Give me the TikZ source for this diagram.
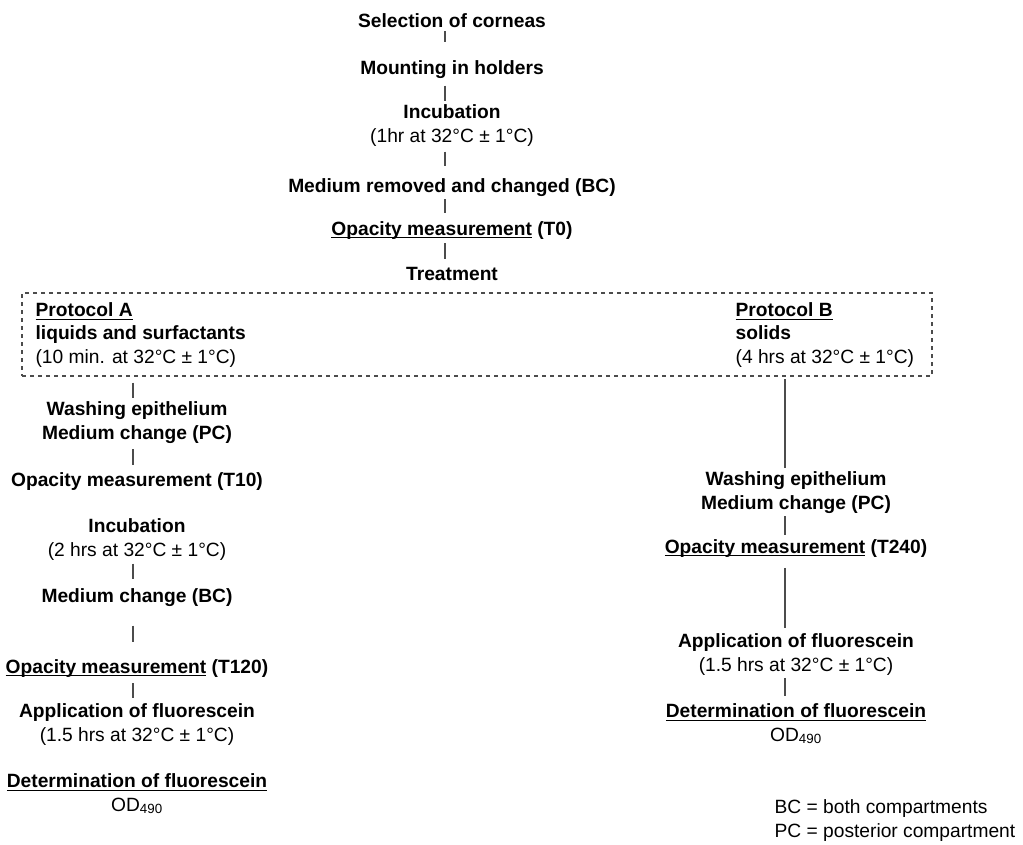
\documentclass[tikz,border=0pt]{standalone}
\usepackage{fontspec}
\setmainfont{Liberation Sans}
\usetikzlibrary{fit}
\newcommand{\undl}[1]{\setbox0\hbox{#1}\rlap{\rule[-2.2pt]{\wd0}{0.9pt}}\box0\relax}
\begin{document}
\begin{tikzpicture}[x=0.75pt,y=-0.75pt,
  every node/.style={font=\fontsize{14.4}{17.3}\selectfont,align=center,inner sep=1pt,anchor=base},
  link/.style={draw=black!70,line width=0.9pt,shorten <=2pt,shorten >=5pt}]
  \useasboundingbox (0,0) rectangle (1023,844);
  \coordinate (mainspine) at (445,0);
  \coordinate (spineA) at (133,0);
  \coordinate (spineB) at (785,0);
  \node (sel) at (452,27) {\textbf{Selection of corneas}};
  \node (mount) at (452,74) {\textbf{Mounting in holders}};
  \node (incub) at (452,142) {\textbf{Incubation}\\(1hr at 32°C ± 1°C)};
  \node (medrem) at (452,192) {\textbf{Medium removed and changed (BC)}};
  \node (opac0) at (452,235) {\undl{\textbf{Opacity measurement}} \textbf{(T0)}};
  \node (treat) at (452,280) {\textbf{Treatment}};
  \node[fit={(22,293) (932,376)},inner sep=0pt,draw=black!70,dashed,line width=0.8pt] (protobox) {};
  \node[anchor=base west,align=left] (protA) at (34,363) {\undl{\textbf{Protocol A}}\\\textbf{liquids and surfactants}\\(10 min. at 32°C ± 1°C)};
  \node[anchor=base west,align=left] (protB) at (734,363) {\undl{\textbf{Protocol B}}\\\textbf{solids}\\(4 hrs at 32°C ± 1°C)};
  \node (washA) at (137,439) {\textbf{Washing epithelium}\\\textbf{Medium change (PC)}};
  \node (opac10) at (137,486) {\textbf{Opacity measurement (T10)}};
  \node (incubA) at (137,556) {\textbf{Incubation}\\(2 hrs at 32°C ± 1°C)};
  \node (medA) at (137,602) {\textbf{Medium change (BC)}};
  \node (opac120) at (137,673) {\undl{\textbf{Opacity measurement}} \textbf{(T120)}};
  \node (applA) at (137,741) {\textbf{Application of fluorescein}\\(1.5 hrs at 32°C ± 1°C)};
  \node (detA) at (137,811) {\undl{\textbf{Determination of fluorescein}}\\OD\textsubscript{490}};
  \node (washB) at (796,509) {\textbf{Washing epithelium}\\\textbf{Medium change (PC)}};
  \node (opac240) at (796,553) {\undl{\textbf{Opacity measurement}} \textbf{(T240)}};
  \node (applB) at (796,671) {\textbf{Application of fluorescein}\\(1.5 hrs at 32°C ± 1°C)};
  \node (detB) at (796,741) {\undl{\textbf{Determination of fluorescein}}\\OD\textsubscript{490}};
  \node[anchor=base west,align=left] (legend) at (773,837) {BC = both compartments\\PC = posterior compartment};
  \draw[link,shorten >=12pt] (sel.south -| mainspine) -- (mount.north -| mainspine);
  \draw[link,shorten <=4.5pt,shorten >=2pt] (mount.south -| mainspine) -- (incub.north -| mainspine);
  \draw[link,shorten <=3pt,shorten >=7.5pt] (incub.south -| mainspine) -- (medrem.north -| mainspine);
  \draw[link,shorten <=1pt] (medrem.south -| mainspine) -- (opac0.north -| mainspine);
  \draw[link] (opac0.south -| mainspine) -- (treat.north -| mainspine);
  \draw[link,shorten <=4.5pt,shorten >=2pt] (protobox.south -| spineA) -- (washA.north -| spineA);
  \draw[link,shorten <=3.5pt,shorten >=4.5pt] (washA.south -| spineA) -- (opac10.north -| spineA);
  \draw[link,shorten <=1.5pt,shorten >=6pt] (incubA.south -| spineA) -- (medA.north -| spineA);
  \draw[link,shorten <=13.5pt,shorten >=12pt] (medA.south -| spineA) -- (opac120.north -| spineA);
  \draw[link,shorten <=3.5pt,shorten >=3.5pt] (opac120.south -| spineA) -- (applA.north -| spineA);
  \draw[link,shorten >=2pt] (protobox.south -| spineB) -- (washB.north -| spineB);
  \draw[link,shorten <=1pt,shorten >=2pt] (washB.south -| spineB) -- (opac240.north -| spineB);
  \draw[link,shorten <=7pt,shorten >=3pt] (opac240.south -| spineB) -- (applB.north -| spineB);
  \draw[link,shorten <=1pt] (applB.south -| spineB) -- (detB.north -| spineB);
\end{tikzpicture}
\end{document}
